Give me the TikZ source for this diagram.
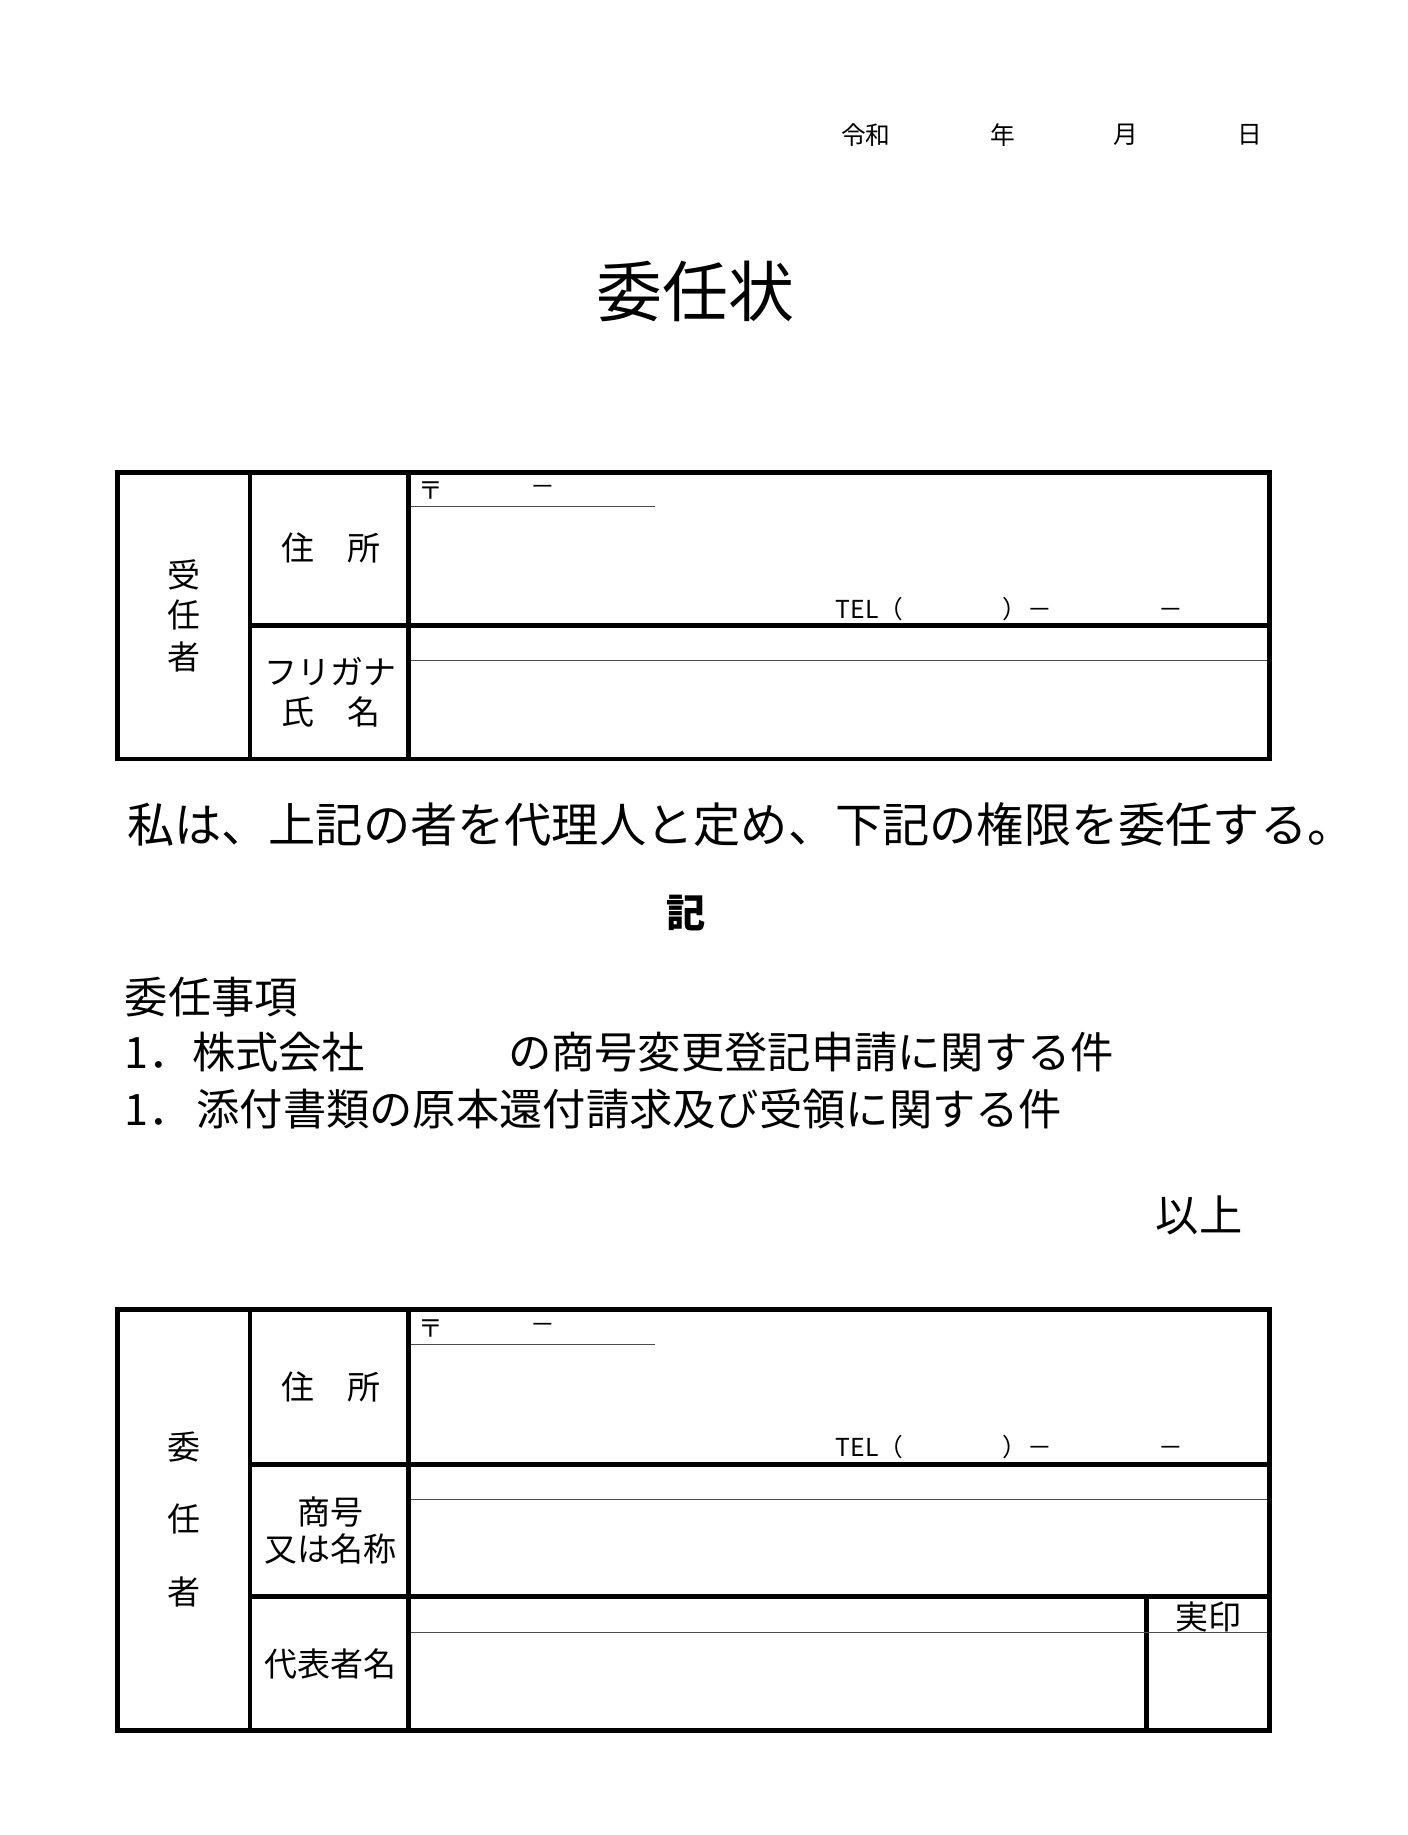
\documentclass[tikz,border=0pt]{standalone}
\usepackage{fontspec}
\setmainfont{Noto Sans CJK JP}
\usepackage{tikz}
\tikzset{
    every node/.style={inner sep=0pt, font=\fontsize{16}{18}\selectfont}
}
\tikzset{
    thick rule/.style={line width=2.3pt},
    thin rule/.style={line width=0.5pt, black!70},
    small/.style={font=\fontsize{12}{14}\selectfont},
    body/.style={anchor=west, font=\fontsize{21}{24}\selectfont}
}

\begin{document}
\begin{tikzpicture}[x=0.02cm,y=-0.02cm]
  \useasboundingbox (0,0) rectangle (1200,1564);
  % date and title
  \node (era) [small] at (738,115) {令和};
  \node (yr) [small] at (855,115) {年};
  \node (mo) [small] at (960,115) {月};
  \node (dy) [small] at (1065,115) {日};
  \node (title) [font=\fontsize{32}{34}\selectfont] at (593,248) {委任状};

  % first table
  \draw [thick rule] (100,403) rectangle (1082,647);
  \draw [thick rule] (213,403) -- (213,647);
  \draw [thick rule] (348,403) -- (348,647);
  \draw [thick rule] (213,533) -- (1082,533);
  \node (zip1) [small] at (367,418) {〒};
  \node (zipd1) [small] at (463,418) {－};
  \draw [thin rule] (350,432) -- (558,432);
  \node (addr1) at (282,467) {住\hspace{1em}所};
  \node (tel1) [small, anchor=west] at (712,519) {TEL（\hspace{4em}）－\hspace{4.3em}－};
  \draw [thin rule] (350,563) -- (1080,563);
  \node (kana1) at (282,572) {フリガナ};
  \node (name1) at (282,607) {氏\hspace{1em}名};
  \node (ju) at (157,490) {受};
  \node (nin) at (157,524) {任};
  \node (sha) at (157,560) {者};

  % body text
  \node (decl) [anchor=west, font=\fontsize{22.9}{25}\selectfont] at (108,703)
    {私は、上記の者を代理人と定め、下記の権限を委任する。};
  \node (ki) [font=\fontsize{19}{21}\selectfont\bfseries] at (585,778) {記};
  \node (items) [body] at (106,850) {委任事項};
  \node (item1) [body] at (106,897)
    {1．株式会社\hspace{3.3em}の商号変更登記申請に関する件};
  \node (item2) [body] at (106,945)
    {1．\hspace{0.1em}添付書類の原本還付請求及び受領に関する件};
  \node (end) [font=\fontsize{21}{24}\selectfont] at (1022,1036) {以上};

  % second table
  \draw [thick rule] (100,1116) rectangle (1082,1475);
  \draw [thick rule] (213,1116) -- (213,1475);
  \draw [thick rule] (348,1116) -- (348,1475);
  \draw [thick rule] (213,1248) -- (1082,1248);
  \draw [thick rule] (213,1361) -- (1082,1361);
  \draw [thick rule] (977,1361) -- (977,1475);
  \node (zip2) [small] at (367,1132) {〒};
  \node (zipd2) [small] at (463,1132) {－};
  \draw [thin rule] (350,1146) -- (558,1146);
  \node (addr2) at (282,1182) {住\hspace{1em}所};
  \node (tel2) [small, anchor=west] at (712,1233) {TEL（\hspace{4em}）－\hspace{4.3em}－};
  \draw [thin rule] (350,1278) -- (1080,1278);
  \node (trade) at (282,1289) {商号};
  \node (orname) at (282,1320) {又は名称};
  \draw [thin rule] (350,1391) -- (1080,1391);
  \node (seal) at (1030,1378) {実印};
  \node (rep) at (282,1418) {代表者名};
  \node (i) at (157,1233) {委};
  \node (nin2) at (157,1295) {任};
  \node (sha2) at (157,1357) {者};
\end{tikzpicture}
\end{document}
